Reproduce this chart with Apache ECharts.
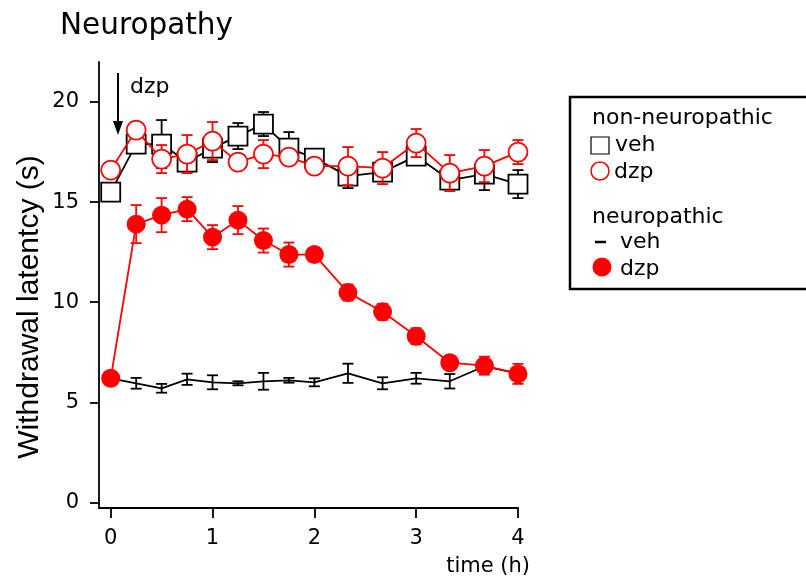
<!DOCTYPE html>
<html>
<head>
<meta charset="utf-8">
<script src="https://cdn.jsdelivr.net/npm/echarts@6/dist/echarts.min.js"></script>
<style>
    html, body { margin: 0; padding: 0; background: #fff; }
    #myChart { width: 806px; height: 580px; }
</style>
</head>
<body>
<div id="myChart"></div>
<script>
// time points (h)
var times = [0, 0.25, 0.5, 0.75, 1, 1.25, 1.5, 1.75, 2, 2.33, 2.67, 3, 3.33, 3.67, 4]
var xTicks = [0, 1, 2, 3, 4]
var yTicks = [0, 5, 10, 15, 20]

// non-neuropathic
var nonVeh = [15.5, 17.9, 17.9, 17.0, 17.7, 18.3, 18.9, 17.7, 17.2, 16.3, 16.5, 17.3, 16.1, 16.4, 15.9]
var nonVehErr = [0.3, 0.4, 1.2, 0.4, 0.7, 0.65, 0.6, 0.8, 0.3, 0.6, 0.3, 0.4, 0.3, 0.8, 0.7]
var nonDzp = [16.6, 18.6, 17.15, 17.4, 18.05, 17.0, 17.4, 17.25, 16.8, 16.8, 16.7, 17.95, 16.45, 16.8, 17.5]
var nonDzpErr = [0.3, 0.4, 0.7, 0.95, 0.95, 0.4, 0.7, 0.4, 0.4, 0.95, 0.8, 0.7, 0.9, 0.8, 0.6]

// neuropathic
var neuroVeh = [6.2, 5.95, 5.7, 6.15, 6.0, 5.95, 6.05, 6.1, 6.0, 6.45, 5.95, 6.2, 6.05, 6.8, 6.45]
var neuroVehErr = [0.2, 0.27, 0.22, 0.28, 0.35, 0.1, 0.42, 0.12, 0.2, 0.48, 0.3, 0.27, 0.36, 0.3, 0.3]
var neuroDzp = [6.2, 13.9, 14.35, 14.65, 13.25, 14.1, 13.08, 12.38, 12.38, 10.48, 9.52, 8.3, 6.98, 6.83, 6.42]
var neuroDzpErr = [0.2, 0.95, 0.85, 0.6, 0.6, 0.7, 0.6, 0.6, 0.3, 0.4, 0.4, 0.4, 0.3, 0.45, 0.5]

var FONT = 'DejaVu Sans'

function pairs(vals) {
    return times.map(function (t, i) { return [t, vals[i]] })
}
function errRows(vals, errs) {
    return times.map(function (t, i) { return [t, vals[i], errs[i]] })
}

// error bar series (vertical bar + caps)
function errSeries(vals, errs, color, z) {
    return {
        type: 'custom',
        z: z,
        silent: true,
        data: errRows(vals, errs),
        renderItem: function (params, api) {
            var x = api.value(0)
            var v = api.value(1)
            var e = api.value(2)
            var hi = api.coord([x, v + e])
            var lo = api.coord([x, v - e])
            var w = 5.5
            var st = { stroke: color, lineWidth: 1.8 }
            return {
                type: 'group',
                children: [
                    { type: 'line', shape: { x1: hi[0], y1: hi[1], x2: lo[0], y2: lo[1] }, style: st },
                    { type: 'line', shape: { x1: hi[0] - w, y1: hi[1], x2: hi[0] + w, y2: hi[1] }, style: st },
                    { type: 'line', shape: { x1: lo[0] - w, y1: lo[1], x2: lo[0] + w, y2: lo[1] }, style: st }
                ]
            }
        }
    }
}

var myChart = echarts.init(document.getElementById('myChart'))
var option = {
    animation: false,
    backgroundColor: '#fff',
    grid: { left: 99, right: 288, top: 62, bottom: 72, containLabel: false },
    xAxis: {
        type: 'value',
        min: -0.115,
        max: 4,
        splitLine: { show: false },
        axisLine: { onZero: false, lineStyle: { color: '#000', width: 1.8 } },
        axisTick: { customValues: xTicks, length: 10, lineStyle: { color: '#000', width: 1.8 } },
        axisLabel: { customValues: xTicks, margin: 20, color: '#000', fontSize: 21, fontFamily: FONT }
    },
    yAxis: {
        type: 'value',
        min: -0.28,
        max: 22,
        splitLine: { show: false },
        axisLine: { show: true, onZero: false, lineStyle: { color: '#000', width: 1.8 } },
        axisTick: { show: true, customValues: yTicks, length: 9, lineStyle: { color: '#000', width: 1.8 } },
        axisLabel: { customValues: yTicks, margin: 20, color: '#000', fontSize: 21, fontFamily: FONT }
    },
    series: [
        errSeries(nonVeh, nonVehErr, '#000', 1),
        {
            name: 'non-neuropathic veh',
            type: 'line',
            z: 2,
            data: pairs(nonVeh),
            symbol: 'rect',
            symbolSize: 19,
            lineStyle: { color: '#000', width: 1.8 },
            itemStyle: { color: '#fff', borderColor: '#000', borderWidth: 1.8 }
        },
        errSeries(nonDzp, nonDzpErr, '#ff0000', 3),
        {
            name: 'non-neuropathic dzp',
            type: 'line',
            z: 4,
            data: pairs(nonDzp),
            symbol: 'circle',
            symbolSize: 19,
            lineStyle: { color: '#ff0000', width: 1.8 },
            itemStyle: { color: '#fff', borderColor: '#ff0000', borderWidth: 1.8 }
        },
        errSeries(neuroVeh, neuroVehErr, '#000', 5),
        {
            name: 'neuropathic veh',
            type: 'line',
            z: 6,
            data: pairs(neuroVeh),
            symbol: 'none',
            lineStyle: { color: '#000', width: 1.8 }
        },
        errSeries(neuroDzp, neuroDzpErr, '#ff0000', 7),
        {
            name: 'neuropathic dzp',
            type: 'line',
            z: 8,
            data: pairs(neuroDzp),
            symbol: 'circle',
            symbolSize: 19,
            lineStyle: { color: '#ff0000', width: 1.8 },
            itemStyle: { color: '#ff0000', borderWidth: 0 }
        }
    ],
    graphic: [
        // title
        { type: 'text', left: 60, top: 11, style: { text: 'Neuropathy', font: '29.5px ' + FONT, fill: '#000' } },
        // y axis name
        {
            type: 'text', x: 30, y: 307, rotation: Math.PI / 2,
            style: { text: 'Withdrawal latentcy (s)', font: '30px Liberation Sans', fill: '#000', align: 'center', verticalAlign: 'middle' }
        },
        // x axis name
        { type: 'text', x: 530, y: 567, style: { text: 'time (h)', font: '21px ' + FONT, fill: '#000', align: 'right', verticalAlign: 'middle' } },
        // dzp arrow
        { type: 'line', shape: { x1: 118, y1: 73, x2: 118, y2: 124 }, style: { stroke: '#000', lineWidth: 2 } },
        { type: 'polygon', shape: { points: [[113, 121], [123, 121], [118, 135]] }, style: { fill: '#000' } },
        { type: 'text', x: 130, y: 87, style: { text: 'dzp', font: '22px ' + FONT, fill: '#000', verticalAlign: 'middle' } },
        // legend box
        { type: 'rect', shape: { x: 570, y: 97, width: 250, height: 192 }, style: { fill: '#fff', stroke: '#000', lineWidth: 2.5 } },
        { type: 'text', x: 592, y: 118, style: { text: 'non-neuropathic', font: '22px ' + FONT, fill: '#000', verticalAlign: 'middle' } },
        { type: 'rect', shape: { x: 591, y: 137, width: 18, height: 17 }, style: { fill: '#fff', stroke: '#000', lineWidth: 1.2 } },
        { type: 'text', x: 615, y: 145, style: { text: 'veh', font: '22px ' + FONT, fill: '#000', verticalAlign: 'middle' } },
        { type: 'circle', shape: { cx: 600, cy: 171, r: 9 }, style: { fill: '#fff', stroke: '#ff0000', lineWidth: 1.5 } },
        { type: 'text', x: 614, y: 172, style: { text: 'dzp', font: '22px ' + FONT, fill: '#000', verticalAlign: 'middle' } },
        { type: 'text', x: 592, y: 217, style: { text: 'neuropathic', font: '22px ' + FONT, fill: '#000', verticalAlign: 'middle' } },
        { type: 'line', shape: { x1: 595, y1: 242, x2: 606, y2: 242 }, style: { stroke: '#000', lineWidth: 2.5 } },
        { type: 'text', x: 620, y: 242, style: { text: 'veh', font: '22px ' + FONT, fill: '#000', verticalAlign: 'middle' } },
        { type: 'circle', shape: { cx: 602, cy: 267, r: 9.5 }, style: { fill: '#ff0000' } },
        { type: 'text', x: 620, y: 269, style: { text: 'dzp', font: '22px ' + FONT, fill: '#000', verticalAlign: 'middle' } }
    ]
}
myChart.setOption(option)
</script>
</body>
</html>
